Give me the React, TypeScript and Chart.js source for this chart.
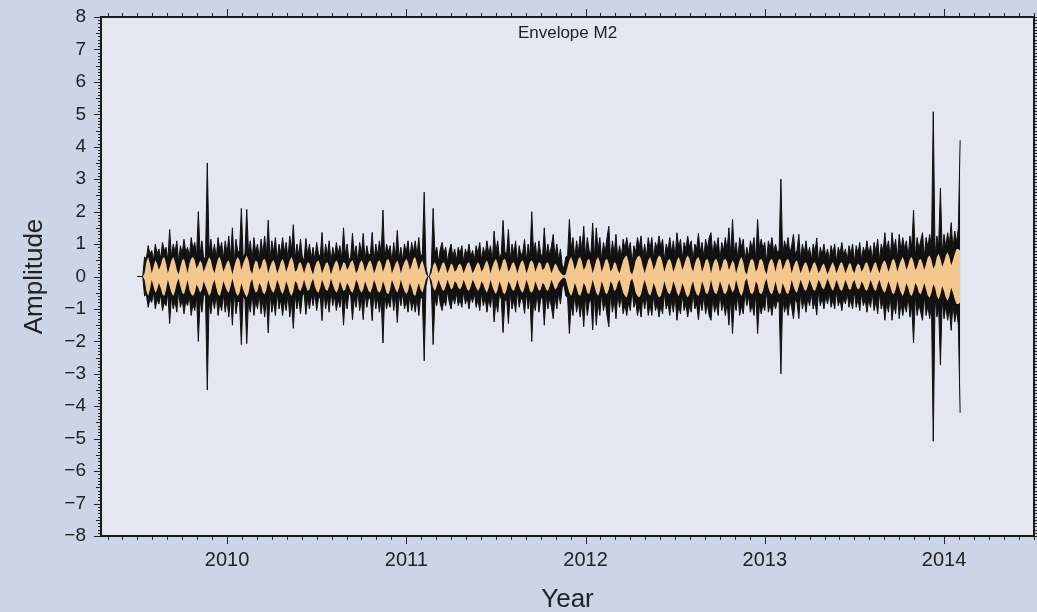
import React, { useEffect, useRef } from "react";
import { Chart, registerables } from "chart.js";

Chart.register(...registerables);

// ---- data ----
const startYear = 2009.5;
const stepYears = 0.01;

// upper envelope of the raw series (black); the lower one is its mirror
const envelope = [
  0, 0, 0, 0, 0.6, 0.55, 0.95, 0.7, 0.8, 0.5, 1.0, 0.7, 0.85, 0.55, 1.05, 0.8, 0.9, 0.5, 1.45, 0.6,
  1.0, 0.75, 1.1, 0.45, 0.95, 0.7, 1.15, 0.75, 0.9, 0.6, 1.2, 0.85, 1.05, 0.6, 2.0, 0.7, 1.1, 0.55, 0.6, 3.5,
  0.75, 1.15, 0.65, 1.0, 0.55, 1.2, 0.8, 1.05, 0.55, 1.1, 0.7, 1.25, 0.6, 1.5, 0.45, 1.15, 0.75, 0.8, 2.1, 0.6,
  0.7, 2.07, 0.75, 1.1, 0.5, 1.2, 0.75, 1.0, 0.55, 1.15, 0.7, 1.25, 0.65, 1.74, 0.5, 1.1, 0.75, 1.2, 0.5, 1.0,
  0.7, 1.2, 0.75, 1.05, 0.55, 1.25, 0.8, 1.6, 0.55, 1.0, 0.65, 1.15, 0.6, 0.5, 1.17, 0.65, 1.0, 0.55, 0.9, 0.5,
  1.05, 0.7, 0.6, 1.36, 0.45, 1.0, 0.65, 1.1, 0.45, 0.9, 0.6, 1.05, 0.7, 0.95, 0.55, 1.5, 0.65, 1.0, 0.5, 0.6,
  1.33, 0.65, 0.95, 0.45, 1.05, 0.7, 1.33, 0.5, 0.95, 0.65, 0.7, 1.36, 0.45, 1.0, 0.65, 1.1, 0.7, 2.05, 0.5, 1.0,
  0.75, 0.95, 0.45, 1.05, 0.6, 1.42, 0.55, 0.9, 0.5, 1.0, 0.75, 1.1, 0.55, 1.05, 0.75, 1.1, 0.65, 1.2, 0.6, 0.7,
  2.6, 0.3, 0, 0, 0.3, 2.1, 0.7, 0.9, 0.45, 0.85, 1.05, 0.7, 0.9, 0.45, 0.8, 1.0, 0.6, 0.85, 0.5, 0.9,
  0.7, 0.95, 0.45, 0.85, 0.65, 1.0, 0.6, 0.8, 0.5, 0.95, 0.7, 1.05, 0.5, 0.9, 0.65, 1.1, 0.7, 0.95, 0.45, 1.4,
  0.75, 1.1, 0.55, 0.7, 1.73, 0.75, 0.7, 1.45, 0.5, 1.0, 0.7, 1.1, 0.45, 0.95, 0.65, 0.75, 1.14, 0.5, 1.0, 0.6,
  2.0, 0.75, 1.05, 0.5, 1.1, 0.7, 0.6, 1.5, 0.6, 1.0, 0.65, 0.95, 1.3, 0.6, 1.0, 0.5, 0.85, 0.35, 0.25, 0.6,
  0.65, 1.76, 0.85, 1.2, 0.55, 1.1, 0.75, 1.25, 0.8, 1.55, 0.6, 1.2, 0.8, 0.7, 1.65, 0.6, 1.5, 0.8, 1.2, 0.5,
  1.05, 0.75, 1.2, 1.55, 0.5, 1.1, 0.7, 1.3, 0.55, 0.95, 0.6, 1.15, 0.85, 1.2, 0.8, 1.05, 0.4, 0.95, 0.75, 1.2,
  0.9, 1.25, 0.6, 1.0, 0.6, 1.2, 0.85, 1.2, 0.55, 1.05, 0.85, 1.25, 0.9, 1.15, 0.5, 1.0, 0.8, 1.2, 0.75, 1.1,
  0.6, 1.35, 0.9, 1.15, 0.55, 1.05, 0.85, 1.25, 0.9, 1.1, 0.5, 1.0, 0.85, 1.33, 0.75, 1.05, 0.6, 1.15, 0.85, 1.2,
  1.35, 0.65, 1.1, 0.85, 1.2, 0.5, 1.05, 0.8, 1.2, 0.8, 1.5, 0.65, 1.76, 0.75, 1.05, 0.55, 1.2, 0.9, 1.15, 0.5,
  0.9, 0.6, 1.1, 0.85, 1.2, 0.5, 1.76, 0.85, 1.15, 0.85, 1.05, 0.45, 1.1, 0.85, 1.2, 0.75, 1.0, 0.75, 0.8, 3.0,
  0.6, 1.1, 0.85, 1.2, 0.7, 0.95, 1.3, 0.7, 0.8, 1.3, 0.5, 1.0, 0.7, 1.1, 0.65, 0.9, 0.5, 1.0, 0.75, 1.19,
  0.45, 0.9, 0.65, 1.0, 0.6, 0.85, 0.5, 0.95, 0.7, 1.0, 0.45, 0.9, 0.7, 1.05, 0.65, 0.85, 0.5, 0.95, 0.7, 1.0,
  0.45, 0.95, 0.7, 1.05, 0.5, 0.9, 0.7, 1.1, 0.7, 0.95, 0.5, 1.05, 0.75, 1.15, 0.5, 1.0, 0.75, 1.35, 0.8, 1.1,
  0.6, 1.35, 0.85, 1.15, 0.55, 1.3, 0.8, 1.2, 0.85, 1.1, 0.6, 1.25, 0.9, 2.05, 0.6, 1.2, 0.85, 1.1, 1.35, 0.6,
  1.2, 0.9, 1.3, 0.85, 5.08, 0.65, 1.25, 0.95, 2.73, 0.7, 1.3, 0.9, 1.35, 1.0, 1.66, 0.85, 1.4, 1.05, 1.5, 4.2,
];

// inner M2 amplitude (orange fill); mirrored below zero
const signal = [
  0, 0, 0, 0, 0.1, 0.45, 0.6, 0.4, 0.1, 0.3, 0.5, 0.4, 0.2, 0.35, 0.55, 0.6, 0.4, 0.1, 0.3, 0.5,
  0.6, 0.45, 0.2, 0.06, 0.3, 0.5, 0.55, 0.35, 0.1, 0.4, 0.55, 0.6, 0.5, 0.25, 0.35, 0.5, 0.4, 0.15, 0.3, 0.45,
  0.6, 0.5, 0.25, 0.1, 0.35, 0.55, 0.6, 0.4, 0.15, 0.3, 0.45, 0.5, 0.3, 0.06, 0.3, 0.5, 0.6, 0.5, 0.2, 0.4,
  0.55, 0.65, 0.5, 0.2, 0.08, 0.35, 0.5, 0.45, 0.2, 0.3, 0.5, 0.55, 0.4, 0.1, 0.3, 0.45, 0.5, 0.35, 0.1, 0.25,
  0.45, 0.55, 0.4, 0.15, 0.3, 0.5, 0.6, 0.45, 0.15, 0.2, 0.4, 0.45, 0.3, 0.1, 0.3, 0.45, 0.4, 0.2, 0.06, 0.3,
  0.45, 0.5, 0.35, 0.1, 0.25, 0.4, 0.45, 0.3, 0.06, 0.25, 0.4, 0.5, 0.4, 0.15, 0.3, 0.45, 0.4, 0.2, 0.3, 0.45,
  0.5, 0.35, 0.1, 0.2, 0.4, 0.5, 0.4, 0.15, 0.3, 0.45, 0.5, 0.35, 0.1, 0.25, 0.45, 0.5, 0.4, 0.15, 0.3, 0.5,
  0.55, 0.4, 0.1, 0.25, 0.4, 0.5, 0.35, 0.1, 0.3, 0.45, 0.55, 0.45, 0.2, 0.35, 0.55, 0.6, 0.4, 0.2, 0.4, 0.5,
  0.3, 0.08, 0, 0, 0.1, 0.35, 0.45, 0.3, 0.1, 0.25, 0.4, 0.45, 0.3, 0.1, 0.25, 0.4, 0.35, 0.15, 0.2, 0.35,
  0.4, 0.3, 0.1, 0.25, 0.4, 0.45, 0.3, 0.1, 0.2, 0.35, 0.45, 0.35, 0.15, 0.25, 0.4, 0.5, 0.35, 0.1, 0.3, 0.45,
  0.55, 0.4, 0.15, 0.3, 0.5, 0.55, 0.4, 0.15, 0.25, 0.4, 0.45, 0.3, 0.1, 0.3, 0.45, 0.5, 0.35, 0.1, 0.25, 0.45,
  0.5, 0.4, 0.15, 0.3, 0.45, 0.4, 0.2, 0.25, 0.4, 0.45, 0.3, 0.1, 0.25, 0.4, 0.35, 0.2, 0.12, 0.06, 0.03, 0.08,
  0.3, 0.5, 0.6, 0.45, 0.2, 0.35, 0.55, 0.6, 0.45, 0.2, 0.3, 0.5, 0.55, 0.35, 0.1, 0.3, 0.5, 0.6, 0.45, 0.15,
  0.3, 0.5, 0.55, 0.4, 0.15, 0.25, 0.45, 0.4, 0.2, 0.1, 0.3, 0.5, 0.6, 0.65, 0.45, 0.15, 0.06, 0.25, 0.5, 0.6,
  0.65, 0.55, 0.3, 0.1, 0.3, 0.5, 0.6, 0.45, 0.2, 0.35, 0.55, 0.65, 0.6, 0.4, 0.15, 0.35, 0.5, 0.55, 0.4, 0.15,
  0.3, 0.5, 0.6, 0.45, 0.2, 0.35, 0.55, 0.65, 0.55, 0.3, 0.15, 0.4, 0.55, 0.6, 0.45, 0.15, 0.3, 0.5, 0.55, 0.4,
  0.1, 0.35, 0.5, 0.55, 0.4, 0.15, 0.3, 0.5, 0.55, 0.45, 0.2, 0.35, 0.5, 0.4, 0.1, 0.3, 0.5, 0.6, 0.45, 0.15,
  0.06, 0.3, 0.5, 0.55, 0.45, 0.15, 0.25, 0.5, 0.55, 0.45, 0.2, 0.06, 0.35, 0.5, 0.55, 0.4, 0.15, 0.4, 0.55, 0.5,
  0.2, 0.35, 0.5, 0.55, 0.4, 0.1, 0.3, 0.45, 0.5, 0.3, 0.1, 0.25, 0.4, 0.45, 0.3, 0.1, 0.25, 0.4, 0.45, 0.3,
  0.1, 0.2, 0.35, 0.4, 0.25, 0.06, 0.2, 0.35, 0.45, 0.3, 0.1, 0.25, 0.4, 0.45, 0.3, 0.1, 0.25, 0.4, 0.4, 0.2,
  0.1, 0.3, 0.4, 0.35, 0.15, 0.25, 0.4, 0.45, 0.3, 0.1, 0.25, 0.4, 0.45, 0.25, 0.1, 0.3, 0.45, 0.5, 0.35, 0.15,
  0.3, 0.5, 0.55, 0.4, 0.15, 0.35, 0.5, 0.6, 0.45, 0.2, 0.35, 0.55, 0.6, 0.45, 0.2, 0.3, 0.5, 0.55, 0.4, 0.2,
  0.4, 0.6, 0.65, 0.5, 0.25, 0.35, 0.6, 0.7, 0.55, 0.3, 0.45, 0.65, 0.75, 0.6, 0.35, 0.5, 0.7, 0.85, 0.85, 0.8,
];

const xTickYears = [2010, 2011, 2012, 2013, 2014];
const xMin = 2009.297;
const xMax = 2014.502;
const yMin = -8;
const yMax = 8;
const chartTitle = "Envelope M2";
const xAxisTitle = "Year";
const yAxisTitle = "Amplitude";

// ---- styles ----
const FONT = '"Liberation Sans", Arial, Helvetica, sans-serif';
const OUTER_BG = "#cbd5e5";
const PLOT_BG = "#e3e7ef";
const ORANGE = "#f4c88c";
const INK = "#222222";
const LINE = "#111111";

const plotBgPlugin = {
  id: "plotBg",
  beforeDraw(chart: any) {
    const { ctx, chartArea } = chart;
    ctx.save();
    ctx.fillStyle = PLOT_BG;
    ctx.fillRect(chartArea.left, chartArea.top, chartArea.right - chartArea.left, chartArea.bottom - chartArea.top);
    ctx.restore();
  },
};

const framePlugin = {
  id: "frameTicks",
  afterDraw(chart: any) {
    const { ctx, chartArea } = chart;
    const { left, right, top, bottom } = chartArea;
    const xs = chart.scales.x;
    const ys = chart.scales.y;
    ctx.save();
    ctx.strokeStyle = INK;
    ctx.lineWidth = 1;
    ctx.beginPath();
    for (let k = yMin * 10; k <= yMax * 10; k++) {
      const py = Math.round(ys.getPixelForValue(k / 10)) + 0.5;
      const len = k % 10 === 0 ? 7 : k % 5 === 0 ? 5 : 3;
      ctx.moveTo(left - len, py);
      ctx.lineTo(left, py);
      ctx.moveTo(right, py);
      ctx.lineTo(right + len, py);
    }
    for (let yr = Math.floor(xMin); yr <= Math.ceil(xMax); yr++) {
      for (let m = 0; m < 12; m++) {
        const v = yr + m / 12;
        if (v < xMin || v > xMax) continue;
        const px = Math.round(xs.getPixelForValue(v)) + 0.5;
        const len = m === 0 ? 8 : 4;
        ctx.moveTo(px, bottom);
        ctx.lineTo(px, bottom + len);
        ctx.moveTo(px, top - len);
        ctx.lineTo(px, top);
      }
    }
    ctx.stroke();
    ctx.lineWidth = 2;
    ctx.strokeStyle = "#1a1a1a";
    ctx.strokeRect(left, top, right - left, bottom - top);
    ctx.fillStyle = INK;
    ctx.font = `17px ${FONT}`;
    ctx.textAlign = "center";
    ctx.textBaseline = "alphabetic";
    ctx.fillText(chartTitle, (left + right) / 2, top + 21);
    ctx.restore();
  },
};

export default function App() {
  const canvasRef = useRef<HTMLCanvasElement | null>(null);

  useEffect(() => {
    const canvas = canvasRef.current;
    if (!canvas) return;
    const times = envelope.map((_, i) => startYear + i * stepYears);
    const upperEnv = envelope.map((v, i) => ({ x: times[i], y: v }));
    const lowerEnv = envelope.map((v, i) => ({ x: times[i], y: -v }));
    const upperSig = signal.map((v, i) => ({ x: times[i], y: v }));
    const lowerSig = signal.map((v, i) => ({ x: times[i], y: -v }));

    const chart = new Chart(canvas, {
      type: "line",
      data: {
        datasets: [
          {
            label: "amplitude+",
            data: upperSig,
            borderWidth: 0,
            borderColor: ORANGE,
            backgroundColor: ORANGE,
            pointRadius: 0,
            fill: "+1",
            order: 1,
          },
          {
            label: "amplitude-",
            data: lowerSig,
            borderWidth: 0,
            borderColor: ORANGE,
            backgroundColor: ORANGE,
            pointRadius: 0,
            fill: false,
            order: 1,
          },
          {
            label: "envelope+",
            data: upperEnv,
            borderWidth: 1,
            borderColor: LINE,
            backgroundColor: LINE,
            pointRadius: 0,
            fill: "+1",
            order: 2,
          },
          {
            label: "envelope-",
            data: lowerEnv,
            borderWidth: 1,
            borderColor: LINE,
            backgroundColor: LINE,
            pointRadius: 0,
            fill: false,
            order: 2,
          },
        ],
      },
      options: {
        animation: false,
        responsive: true,
        maintainAspectRatio: false,
        devicePixelRatio: 1,
        layout: { padding: { top: 17, right: 3, left: 0, bottom: 0 } },
        plugins: {
          legend: { display: false },
          tooltip: { enabled: false },
          title: { display: false },
        },
        elements: { line: { tension: 0 } },
        scales: {
          x: {
            type: "linear",
            min: xMin,
            max: xMax,
            grid: { display: false, drawTicks: false },
            border: { display: false },
            afterBuildTicks: (scale: any) => {
              scale.ticks = xTickYears.map((v) => ({ value: v }));
            },
            afterFit: (scale: any) => {
              scale.height = 76;
              scale.paddingLeft = 0;
              scale.paddingRight = 0;
            },
            ticks: {
              autoSkip: false,
              maxRotation: 0,
              padding: 12,
              color: INK,
              font: { family: FONT, size: 20 },
              callback: (v: any) => String(v),
            },
            title: {
              display: true,
              text: xAxisTitle,
              color: INK,
              font: { family: FONT, size: 26 },
              padding: { top: 0, bottom: -3 },
            },
          },
          y: {
            type: "linear",
            min: yMin,
            max: yMax,
            grid: { display: false, drawTicks: false },
            border: { display: false },
            afterFit: (scale: any) => {
              scale.width = 101;
              scale.paddingTop = 0;
              scale.paddingBottom = 0;
            },
            ticks: {
              stepSize: 1,
              autoSkip: false,
              padding: 15,
              color: INK,
              font: { family: FONT, size: 19 },
              callback: (v: any) => (v < 0 ? "\u2212" + Math.abs(v) : String(v)),
            },
            title: {
              display: true,
              text: yAxisTitle,
              color: INK,
              font: { family: FONT, size: 26 },
              padding: { top: 19, bottom: 0 },
            },
          },
        },
      },
      plugins: [plotBgPlugin, framePlugin],
    } as any);

    return () => chart.destroy();
  }, []);

  return (
    <div
      style={{
        position: "absolute",
        left: 0,
        top: 0,
        width: 1037,
        height: 612,
        background: OUTER_BG,
      }}
    >
      <canvas ref={canvasRef} />
    </div>
  );
}
